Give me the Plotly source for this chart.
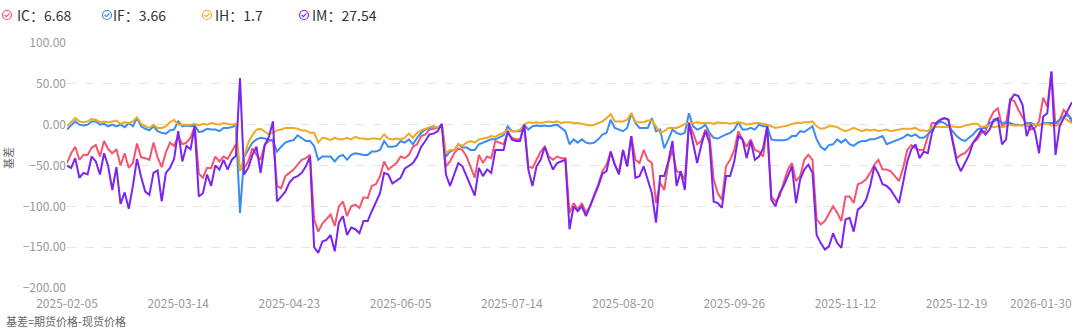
import pandas as pd
import plotly.graph_objects as go

# Exchange holidays that fall on weekdays inside the plotted span
HOLIDAYS = [
    "2025-04-04", "2025-05-01", "2025-05-02", "2025-05-05", "2025-06-02",
    "2025-10-01", "2025-10-02", "2025-10-03", "2025-10-06", "2025-10-07",
    "2025-10-08", "2026-01-01", "2026-01-02",
]
dates = [d.strftime("%Y-%m-%d") for d in pd.bdate_range("2025-02-05", "2026-01-30")
         if d.strftime("%Y-%m-%d") not in HOLIDAYS]

ic = [
    -47, -35, -27, -43, -37, -37, -28, -25, -39, -20,
    -30, -35, -30, -50, -35, -53, -47, -23, -40, -41,
    -43, -22, -40, -52, -34, -22, -26, -14, -24, -22,
    -16, -2, -60, -65, -53, -53, -39, -45, -39, -42,
    -33, -24, -55, -53, -45, -29, -37, -43, -25, -20,
    -18, -75, -78, -63, -59, -55, -49, -43, -41, -37,
    -116, -131, -121, -116, -110, -124, -100, -94, -112, -100,
    -98, -102, -89, -90, -75, -73, -63, -45, -55, -51,
    -47, -39, -41, -37, -27, -24, -14, -12, -6, -5,
    -4, 0, -51, -45, -35, -29, -31, -39, -53, -65,
    -37, -47, -39, -41, -20, -22, -24, -10, -16, -18,
    -18, 0, -51, -53, -43, -33, -27, -39, -43, -39,
    -41, -41, -108, -96, -104, -96, -108, -100, -86, -73,
    -57, -49, -33, -49, -59, -31, -51, -14, -43, -47,
    -31, -43, -47, -96, -71, -80, -47, -31, -57, -59,
    -67, 2, -10, -24, -20, -6, -14, -67, -84, -92,
    -51, -43, -31, -8, -18, -27, -18, -31, -33, -39,
    -2, -88, -94, -88, -71, -55, -47, -69, -63, -43,
    -37, -43, -116, -122, -118, -108, -100, -108, -118, -88,
    -88, -96, -73, -71, -67, -59, -49, -43, -55, -55,
    -57, -63, -69, -53, -31, -25, -29, -31, -31, -14,
    2, 2, 6, 8, 6, -18, -41, -37, -35, -29,
    -22, -18, -10, -8, 6, 16, 20, -2, 2, 31,
    29, 18, 8, 0, -6, -4, 4, 33, 22, 65,
    -2, 6, 18, 12, 6.68,
]

if_ = [
    -6, -1, 4, 0, -1, 0, 4, 4, 0, 1,
    -2, 0, -2, 0, -3, 2, -2, 8, -2, -5,
    -7, -2, -8, -10, -11, -7, -6, 4, -2, -1,
    -2, -1, -9, -8, -5, -6, -6, -8, -4, -4,
    -3, -1, -108, -40, -31, -22, -18, -16, -17, -18,
    -20, -33, -27, -22, -20, -19, -13, -16, -20, -20,
    -26, -43, -39, -39, -39, -45, -39, -37, -43, -37,
    -35, -36, -37, -37, -33, -33, -31, -20, -27, -27,
    -26, -20, -22, -18, -24, -16, -10, -6, -4, -2,
    -4, 0, -39, -33, -31, -24, -28, -28, -31, -31,
    -24, -22, -20, -18, -18, -15, -13, -2, -8, -8,
    -8, 0, -6, -2, -1, -2, -1, -2, -1, 0,
    -4, -8, -24, -18, -22, -18, -22, -23, -22, -18,
    -12, -10, 6, -4, -6, -8, -4, 14, 2, -4,
    -4, -4, 8, -8, -6, -29, -18, -6, -10, -12,
    -10, 14, -2, -6, -4, 0, -10, -16, -17, -14,
    -12, -10, -6, 3, -6, -6, -4, -6, 0, -2,
    -2, -18, -19, -19, -19, -18, -14, -14, -8, -9,
    -6, -2, -18, -27, -31, -25, -24, -18, -22, -18,
    -24, -26, -22, -20, -20, -18, -18, -16, -14, -24,
    -22, -20, -18, -16, -12, -14, -12, -16, -16, -12,
    -6, 0, 4, 2, -2, -8, -14, -18, -20, -16,
    -12, -6, -4, -4, 2, 4, 6, 2, 3, 2,
    0, 0, -1, 2, 2, 0, -1, 2, 2, 2,
    2, 6, 10, 12, 3.66,
]

ih = [
    -2, 3, 8, 4, 3, 4, 7, 6, 3, 4,
    3, 4, 5, 1, 3, 2, 4, 9, 1, -2,
    -4, 0, -4, -4, -2, 3, 6, 0, 0, 0,
    0, 1, -1, 1, 0, 2, 1, 0, 2, 1,
    0, 1, -57, -40, -22, -13, -6, -5, -8, -12,
    -10, -7, -6, -4, -4, -4, -5, -7, -7, -10,
    -10, -22, -16, -17, -19, -16, -18, -18, -16, -18,
    -15, -17, -17, -18, -17, -17, -18, -12, -17, -18,
    -17, -18, -16, -11, -16, -10, -7, -5, -3, -2,
    -4, 0, -35, -31, -31, -24, -26, -22, -20, -22,
    -18, -17, -16, -14, -15, -12, -10, -6, -8, -8,
    -6, 0, 3, 2, 3, 2, 3, 4, 3, 4,
    2, 3, 3, 2, 2, 1, 0, -1, 0, 2,
    4, 8, 13, 4, 4, 4, 6, 14, 3, 3,
    3, 5, 5, -2, -10, -8, -4, -4, -4, -2,
    1, 2, 2, 3, 2, 2, 2, 1, 3, 2,
    2, 1, 2, 3, 2, 0, 1, 2, 2, 1,
    0, -2, -4, -3, -2, -1, 1, 2, 2, 3,
    3, 4, -2, -5, -4, -2, -2, -3, -6, -8,
    -6, -4, -6, -8, -6, -7, -6, -8, -7, -6,
    -8, -7, -6, -5, -5, -5, -4, -7, -7, -8,
    -3, -3, -3, -3, -3, -2, -3, -3, -1, 0,
    1, 1, -3, -2, -1, -3, -2, -3, -2, 0,
    -1, -1, 0, 0, 0, 0, 0, 1, 1, -1,
    0, 0, 9, 5, 1.7,
]

im = [
    -50, -53, -41, -65, -59, -61, -39, -45, -61, -35,
    -51, -80, -52, -97, -83, -103, -75, -42, -64, -82,
    -86, -59, -56, -94, -59, -53, -42, -8, -45, -26,
    -30, -2, -88, -84, -61, -75, -50, -55, -43, -55,
    -43, -38, 57, -61, -53, -37, -27, -59, -25, -15,
    4, -94, -88, -82, -71, -65, -63, -59, -51, -39,
    -150, -157, -143, -141, -135, -155, -120, -112, -135, -126,
    -128, -133, -118, -118, -106, -96, -84, -59, -61, -72,
    -69, -65, -54, -51, -47, -39, -27, -20, -12, -11,
    -8, 1, -61, -75, -61, -47, -51, -63, -73, -87,
    -53, -63, -55, -59, -31, -31, -31, -8, -18, -20,
    -20, 0, -55, -75, -51, -43, -27, -43, -55, -47,
    -45, -43, -128, -100, -106, -100, -112, -100, -86, -75,
    -60, -57, -33, -49, -61, -31, -51, -14, -65, -63,
    -51, -67, -84, -120, -63, -63, -45, -20, -75, -57,
    -80, 2, -25, -47, -25, -8, -22, -94, -96, -102,
    -63, -63, -45, -14, -18, -41, -20, -43, -39, -29,
    -2, -92, -100, -84, -75, -63, -51, -96, -67, -55,
    -49, -59, -135, -145, -153, -149, -133, -145, -151, -116,
    -114, -131, -104, -100, -92, -75, -51, -60, -73, -75,
    -80, -88, -96, -71, -45, -30, -24, -41, -33, -35,
    -10, 2, 6, 8, 6, -20, -45, -57, -47, -37,
    -22, -15, -6, -12, -6, 6, 8, -24, -18, 30,
    37, 35, 24, -14, 0, -8, -35, 10, 14, 65,
    -37, -2, 8, 18, 27.54,
]

series = [
    ("IC", ic, "#f7546d"),
    ("IF", if_, "#3b8bf5"),
    ("IH", ih, "#eeaa22"),
    ("IM", im, "#7b25f2"),
]

FONT = "Noto Sans CJK SC, Noto Sans, sans-serif"
W, H = 1080, 330
ML, MR, MT, MB = 67, 8, 43, 42
PW, PH = W - ML - MR, H - MT - MB


def px_x(px):
    return (px - ML) / PW


def px_y(py):
    return (H - MB - py) / PH


fig = go.Figure()
for name, vals, color in series:
    fig.add_trace(go.Scatter(
        x=dates, y=vals, mode="lines", name=name,
        line=dict(color=color, width=2), showlegend=False,
    ))

# a label every 27 sessions; the final session gets its own right-aligned label
tick_dates = dates[0:len(dates) - 20:27]

annotations = []
shapes = []

annotations.append(dict(
    x=dates[-1], xref="x", y=px_y(302), yref="paper", yanchor="middle", xanchor="right",
    xshift=2, text=dates[-1], showarrow=False,
    font=dict(family=FONT, size=12, color="#999999"),
))

# y-axis title
annotations.append(dict(
    x=px_x(8), xref="paper", y=px_y(158), yref="paper", text="基差",
    textangle=-90, showarrow=False, xanchor="center", yanchor="middle",
    font=dict(family=FONT, size=11, color="#666666"),
))

# footnote
annotations.append(dict(
    x=px_x(5), xref="paper", y=px_y(321), yref="paper", text="基差=期货价格-现货价格",
    showarrow=False, xanchor="left", yanchor="middle", borderpad=0,
    font=dict(family=FONT, size=11, color="#666666"),
))

# legend row: circled check icon + "name：last value"
legend_icon_x = [7, 107, 207, 304]
legend_text_x = [15, 111, 213, 310]
ly = px_y(15)
for (name, vals, color), ix, tx in zip(series, legend_icon_x, legend_text_x):
    xa = px_x(ix)
    shapes.append(dict(
        type="circle", xref="paper", yref="paper", xsizemode="pixel", ysizemode="pixel",
        xanchor=xa, yanchor=ly, x0=-4.5, x1=4.5, y0=-4.5, y1=4.5,
        line=dict(color=color, width=1.2), fillcolor="rgba(0,0,0,0)",
    ))
    shapes.append(dict(
        type="path", xref="paper", yref="paper", xsizemode="pixel", ysizemode="pixel",
        xanchor=xa, yanchor=ly, path="M -2.4,0.2 L -0.6,-1.6 L 2.4,1.6",
        line=dict(color=color, width=1.2),
    ))
    annotations.append(dict(
        x=px_x(tx), xref="paper", y=ly, yref="paper", xanchor="left", yanchor="middle",
        text=f"{name}：{vals[-1]}", showarrow=False,
        font=dict(family=FONT, size=14, color="#333333"),
    ))

fig.update_layout(
    width=W, height=H,
    margin=dict(l=ML, r=MR, t=MT, b=MB),
    paper_bgcolor="white", plot_bgcolor="white",
    font=dict(family=FONT),
    xaxis=dict(
        type="category", range=[0, len(dates) - 1],
        tickmode="array", tickvals=tick_dates, ticktext=tick_dates,
        showgrid=False, showline=False, zeroline=False, ticks="",
        ticklabelstandoff=7,
        tickfont=dict(family=FONT, size=12, color="#999999"),
    ),
    yaxis=dict(
        range=[-200, 100], tick0=0, dtick=50, tickformat=".2f",
        showgrid=True, gridcolor="#e4e4e4", griddash="dash", gridwidth=1,
        zeroline=False, showline=False, ticks="",
        tickfont=dict(family=FONT, size=12, color="#999999"),
    ),
    annotations=annotations,
    shapes=shapes,
    hovermode=False,
)

fig.write_html("out.html")
